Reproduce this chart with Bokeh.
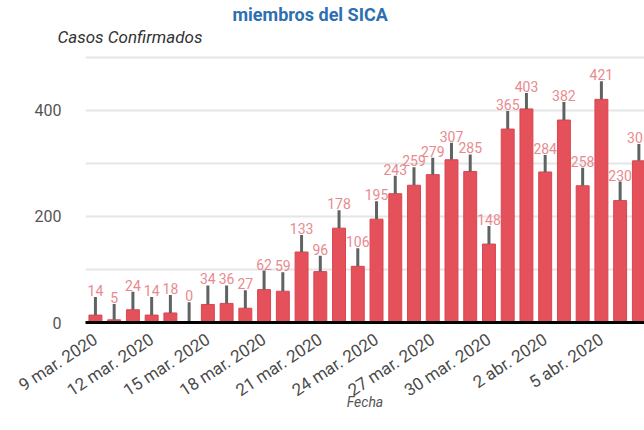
from bokeh.plotting import figure
from bokeh.models import Range1d, FixedTicker, Title, ColumnDataSource
from bokeh.core.properties import value
from bokeh.embed import file_html
from bokeh.resources import INLINE

# ---- data ----
day_index = list(range(30))  # 9 mar. 2020 ... 7 abr. 2020
casos = [14, 5, 24, 14, 18, 0, 34, 36, 27, 62, 59, 133, 96, 178, 106,
         195, 243, 259, 279, 307, 285, 148, 365, 403, 284, 382, 258, 421, 230, 305]
casos_labels = ["14", "5", "24", "14", "18", "0", "34", "36", "27", "62", "59", "133", "96", "178", "106",
                "195", "243", "259", "279", "307", "285", "148", "365", "403", "284", "382", "258", "421", "230", "305"]
error_sup = [34, 30, 34, 34, 34, 38, 36, 34, 34, 36, 36, 32, 30, 34, 34,
             34, 34, 34, 32, 32, 32, 34, 34, 30, 32, 34, 34, 34, 36, 32]
tick_days = [0, 3, 6, 9, 12, 15, 18, 21, 24, 27]
tick_labels = ["9 mar. 2020", "12 mar. 2020", "15 mar. 2020", "18 mar. 2020", "21 mar. 2020",
               "24 mar. 2020", "27 mar. 2020", "30 mar. 2020", "2 abr. 2020", "5 abr. 2020"]
y_ticks = [0, 200, 400]
y_grid = [0, 100, 200, 300, 400, 500]

tops = [c + e for c, e in zip(casos, error_sup)]
src = ColumnDataSource(dict(x=day_index, top=casos, wtop=tops, lab=casos_labels))

FONT = "Roboto"

p = figure(width=644, height=430, output_backend="svg", toolbar_location=None,
           x_range=Range1d(-0.53, 29.30), y_range=Range1d(0, 520.75),
           min_border_left=85, min_border_right=0, min_border_top=46, min_border_bottom=108)
p.title.visible = False
p.outline_line_color = None
p.background_fill_color = "white"
p.border_fill_color = "white"

# bars
p.vbar(x="x", top="top", width=0.69, source=src, fill_color="#e5515b", line_color="#d9444f", line_width=1)
# whiskers
p.segment(x0="x", y0="top", x1="x", y1="wtop", source=src, line_color="#5f6462", line_width=3)
# value labels
p.text(x="x", y="wtop", text="lab", source=src, text_align="center", text_baseline="bottom",
       y_offset=-1, text_color="#e98a90", text_font_size="14px", text_font=value(FONT))

# y axis
yax = p.yaxis[0]
yax.ticker = FixedTicker(ticks=y_ticks)
yax.axis_line_color = None
yax.major_tick_line_color = None
yax.minor_tick_line_color = None
yax.major_label_text_font = FONT
yax.major_label_text_font_size = "16px"
yax.major_label_text_color = "#555555"
yax.major_label_standoff = 18

p.ygrid.ticker = FixedTicker(ticks=y_grid)
p.ygrid.grid_line_color = "#e6e6e6"
p.ygrid.grid_line_width = 2
p.xgrid.visible = False

# x axis (date labels)
xax = p.xaxis[0]
xax.ticker = FixedTicker(ticks=tick_days)
xax.major_label_overrides = {d: t for d, t in zip(tick_days, tick_labels)}
xax.axis_line_color = "black"
xax.axis_line_width = 3
xax.major_tick_line_color = None
xax.minor_tick_line_color = None
xax.major_label_orientation = 0.58
xax.major_label_text_font = FONT
xax.major_label_text_font_size = "17px"
xax.major_label_text_color = "#4a4a4a"
xax.major_label_standoff = 9
xax.axis_label = "Fecha"
xax.axis_label_text_font = FONT
xax.axis_label_text_font_size = "14px"
xax.axis_label_text_font_style = "italic"
xax.axis_label_text_color = "#555555"
xax.axis_label_standoff = -18

# texts above the plot
p.add_layout(Title(text="Casos Confirmados", align="left", offset=-28, text_font=FONT,
                   text_font_size="17px", text_font_style="italic", text_color="#333333",
                   standoff=0), "above")
p.add_layout(Title(text="miembros del SICA", align="left", offset=147, text_font=FONT,
                   text_font_size="18px", text_font_style="bold", text_color="#2d6fb0",
                   standoff=0), "above")

open("out.html", "w").write(file_html(p, INLINE))
